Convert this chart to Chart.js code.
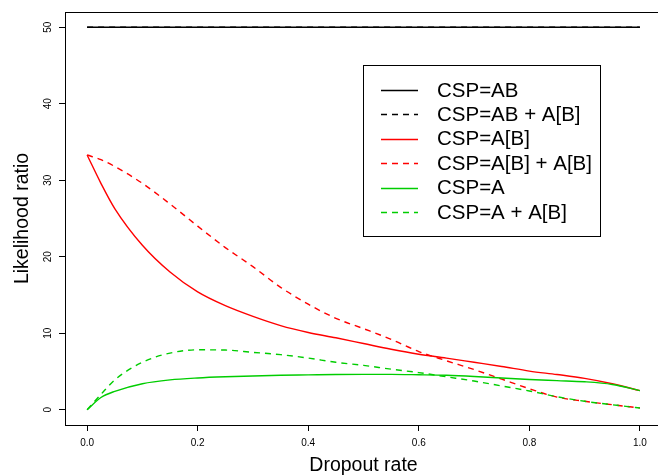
<!DOCTYPE html>
<html>
<head>
<meta charset="utf-8">
<script src="https://cdn.jsdelivr.net/npm/chart.js@4.4.0/dist/chart.umd.min.js"></script>
<style>
  html, body { margin: 0; padding: 0; background: #fff; overflow: hidden; }
  canvas { display: block; }
</style>
</head>
<body>
<canvas id="lrChart" width="664" height="475"></canvas>
<script>
// Dropout rates sampled along the x axis
const dropoutRates = [0, 0.025, 0.05, 0.1, 0.15, 0.2, 0.25, 0.3, 0.35, 0.4, 0.45, 0.5, 0.55, 0.6, 0.65, 0.7, 0.75, 0.8, 0.85, 0.9, 0.95, 1.0];

// Likelihood ratios
const cspAB       = [50, 50, 50, 50, 50, 50, 50, 50, 50, 50, 50, 50, 50, 50, 50, 50, 50, 50, 50, 50, 50, 50];
const cspABplusAB = [50, 50, 50, 50, 50, 50, 50, 50, 50, 50, 50, 50, 50, 50, 50, 50, 50, 50, 50, 50, 50, 50];
const cspAbr      = [33.3, 29.6, 26.3, 21.5, 18.0, 15.4, 13.6, 12.2, 11.0, 10.1, 9.4, 8.65, 7.9, 7.25, 6.75, 6.2, 5.65, 5.05, 4.6, 4.1, 3.4, 2.5];
const cspAbrPlus  = [33.3, 32.7, 31.8, 29.6, 26.9, 24.0, 21.2, 18.7, 16.0, 13.8, 11.95, 10.6, 9.2, 7.6, 6.4, 5.25, 4.0, 2.75, 1.65, 1.1, 0.65, 0.22];
const cspA        = [0, 1.6, 2.4, 3.4, 3.9, 4.15, 4.3, 4.4, 4.5, 4.55, 4.6, 4.62, 4.62, 4.57, 4.5, 4.35, 4.15, 3.95, 3.8, 3.65, 3.3, 2.5];
const cspAplus    = [0, 2.0, 3.9, 6.2, 7.4, 7.83, 7.8, 7.5, 7.2, 6.75, 6.2, 5.8, 5.3, 4.85, 4.3, 3.75, 3.1, 2.45, 1.7, 1.1, 0.65, 0.22];

const seriesLabels = ['CSP=AB', 'CSP=AB + A[B]', 'CSP=A[B]', 'CSP=A[B] + A[B]', 'CSP=A', 'CSP=A + A[B]'];
const seriesValues = [cspAB, cspABplusAB, cspAbr, cspAbrPlus, cspA, cspAplus];
const seriesColors = ['#000000', '#000000', '#ff0000', '#ff0000', '#00cd00', '#00cd00'];
const seriesDashed = [false, true, false, true, false, true];

const xTicks = [0, 0.2, 0.4, 0.6, 0.8, 1.0];
const yTicks = [0, 10, 20, 30, 40, 50];

const FONT = '"Liberation Sans", Arial, Helvetica, sans-serif';
const DASH = [6, 5];

// Build datasets
const datasets = seriesLabels.map((label, i) => ({
    label: label,
    data: dropoutRates.map((x, j) => ({ x: x, y: seriesValues[i][j] })),
    borderColor: seriesColors[i],
    borderWidth: 1.4,
    borderDash: seriesDashed[i] ? DASH : [],
    pointRadius: 0,
    fill: false,
    cubicInterpolationMode: 'monotone',
    order: seriesLabels.length - i
}));

// Plot frame and legend box (R style)
const frameAndLegend = {
    id: 'frameAndLegend',
    afterDraw(chart) {
        const ctx = chart.ctx;
        const a = chart.chartArea;
        ctx.save();
        ctx.strokeStyle = '#000';
        ctx.lineWidth = 1;
        ctx.strokeRect(Math.round(a.left) + 0.5, Math.round(a.top) + 0.5,
            Math.round(a.right - a.left), Math.round(a.bottom - a.top));

        // legend
        const lx = 363.5, ly = 65.5, lw = 237, lh = 171;
        ctx.fillStyle = '#fff';
        ctx.fillRect(lx, ly, lw, lh);
        ctx.strokeRect(lx, ly, lw, lh);
        ctx.font = '20.5px ' + FONT;
        ctx.textBaseline = 'middle';
        ctx.textAlign = 'left';
        chart.data.datasets.forEach((ds, i) => {
            const y = 90 + i * 24.4;
            ctx.beginPath();
            ctx.strokeStyle = ds.borderColor;
            ctx.lineWidth = 1.4;
            ctx.setLineDash(ds.borderDash || []);
            ctx.moveTo(381, Math.round(y) + 0.5);
            ctx.lineTo(418, Math.round(y) + 0.5);
            ctx.stroke();
            ctx.setLineDash([]);
            ctx.fillStyle = '#000';
            ctx.fillText(ds.label, 437, y + 1);
        });
        ctx.restore();
    }
};

new Chart(document.getElementById('lrChart'), {
    type: 'line',
    data: { datasets: datasets },
    options: {
        responsive: false,
        devicePixelRatio: 1,
        animation: false,
        layout: { padding: { top: 12, right: 2, left: 0, bottom: 0 } },
        plugins: {
            legend: { display: false },
            tooltip: { enabled: false }
        },
        scales: {
            x: {
                type: 'linear',
                min: -0.04,
                max: 1.04,
                afterBuildTicks: (scale) => { scale.ticks = xTicks.map(v => ({ value: v })); },
                afterFit: (scale) => { scale.height = 50; },
                ticks: {
                    color: '#000',
                    font: { family: FONT, size: 10 },
                    padding: 6,
                    maxRotation: 0,
                    autoSkip: false,
                    callback: (v) => Number(v).toFixed(1)
                },
                grid: { drawOnChartArea: false, drawTicks: true, tickLength: 6, color: '#000' },
                border: { display: false },
                title: {
                    display: true,
                    text: 'Dropout rate',
                    color: '#000',
                    font: { family: FONT, size: 19.5, lineHeight: 1 },
                    padding: { top: 0, bottom: 0 }
                }
            },
            y: {
                type: 'linear',
                min: -2,
                max: 52,
                afterBuildTicks: (scale) => { scale.ticks = yTicks.map(v => ({ value: v })); },
                afterFit: (scale) => { scale.width = 65; },
                ticks: {
                    color: '#000',
                    font: { family: FONT, size: 10 },
                    padding: 5,
                    minRotation: 90,
                    maxRotation: 90,
                    crossAlign: 'center',
                    autoSkip: false,
                    callback: (v) => String(v)
                },
                grid: { drawOnChartArea: false, drawTicks: true, tickLength: 6, color: '#000' },
                border: { display: false },
                title: {
                    display: true,
                    text: 'Likelihood ratio',
                    color: '#000',
                    font: { family: FONT, size: 19.5, lineHeight: 1 },
                    padding: { top: 13, bottom: 0 }
                }
            }
        }
    },
    plugins: [frameAndLegend]
});
</script>
</body>
</html>
